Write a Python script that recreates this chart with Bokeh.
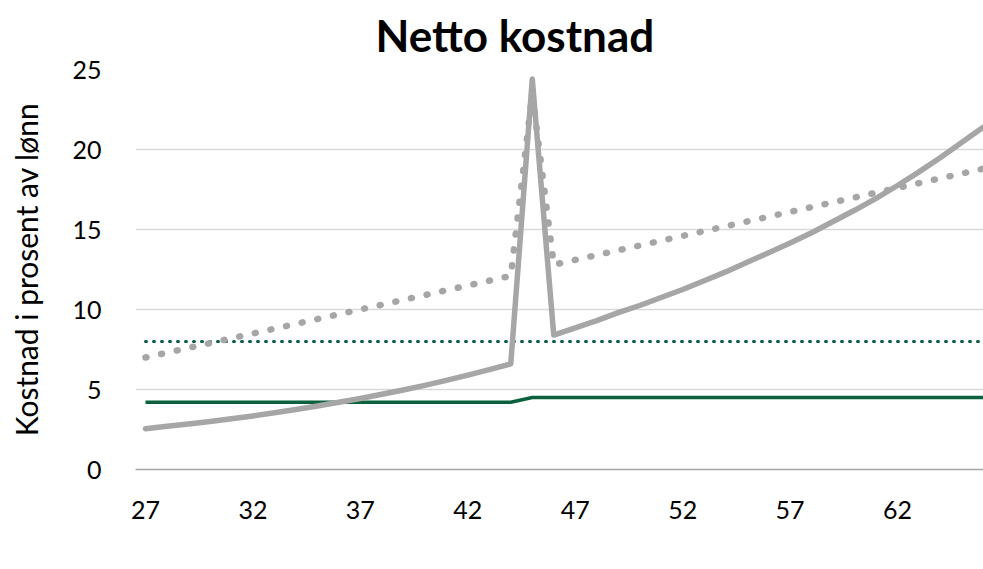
from bokeh.plotting import figure
from bokeh.models import (Range1d, FixedTicker, Legend, LegendItem, Title,
                          LinearAxis, ColumnDataSource)
from bokeh.embed import file_html
from bokeh.resources import INLINE

# ---------------- data ----------------
ages = [27, 28, 29, 30, 31, 32, 33, 34, 35, 36, 37, 38, 39, 40, 41, 42, 43, 44,
        45, 46, 47, 48, 49, 50, 51, 52, 53, 54, 55, 56, 57, 58, 59, 60, 61, 62,
        63, 64, 65, 66]

innskudd = [4.2, 4.2, 4.2, 4.2, 4.2, 4.2, 4.2, 4.2, 4.2, 4.2, 4.2, 4.2, 4.2,
            4.2, 4.2, 4.2, 4.2, 4.2, 4.5, 4.5, 4.5, 4.5, 4.5, 4.5, 4.5, 4.5,
            4.5, 4.5, 4.5, 4.5, 4.5, 4.5, 4.5, 4.5, 4.5, 4.5, 4.5, 4.5, 4.5, 4.5]

grunnmodell = [8.0, 8.0, 8.0, 8.0, 8.0, 8.0, 8.0, 8.0, 8.0, 8.0, 8.0, 8.0, 8.0,
               8.0, 8.0, 8.0, 8.0, 8.0, 8.0, 8.0, 8.0, 8.0, 8.0, 8.0, 8.0, 8.0,
               8.0, 8.0, 8.0, 8.0, 8.0, 8.0, 8.0, 8.0, 8.0, 8.0, 8.0, 8.0, 8.0, 8.0]

standardmodell = [7.0, 7.3, 7.6, 7.9, 8.2, 8.5, 8.8, 9.1, 9.4, 9.7, 10.0, 10.3,
                  10.6, 10.9, 11.2, 11.5, 11.8, 12.1, 23.5, 12.8, 13.1, 13.4,
                  13.7, 14.0, 14.3, 14.6, 14.9, 15.2, 15.5, 15.8, 16.1, 16.4,
                  16.7, 17.0, 17.3, 17.6, 17.9, 18.2, 18.5, 18.8]

ytelse = [2.55, 2.7, 2.85, 3.0, 3.17, 3.35, 3.55, 3.75, 3.97, 4.2, 4.44, 4.7,
          4.97, 5.26, 5.57, 5.9, 6.24, 6.6, 24.4, 8.4, 8.85, 9.3, 9.8, 10.25,
          10.75, 11.25, 11.8, 12.35, 12.95, 13.55, 14.15, 14.8, 15.5, 16.2,
          16.95, 17.75, 18.6, 19.5, 20.45, 21.4]

x_ticks = [27, 32, 37, 42, 47, 52, 57, 62]
y_ticks = [0, 5, 10, 15, 20, 25]

title_text = "Netto kostnad"
y_title = "Kostnad i prosent av lønn"
x_title = "Alder"

# ---------------- styling ----------------
GREEN = "#0b603e"
GREY = "#a6a6a6"
FONT = "Lato"

src = ColumnDataSource(dict(age=ages, inn=innskudd, grunn=grunnmodell,
                            std=standardmodell, yt=ytelse))

p = figure(frame_width=848, frame_height=400, output_backend="svg",
           toolbar_location=None,
           x_range=Range1d(26.535, 66.0), y_range=Range1d(0, 25),
           min_border_left=135, min_border_right=0, min_border_top=69,
           min_border_bottom=0)
p.outline_line_color = None
p.background_fill_color = "white"

# title
p.title = Title(text=title_text, text_font=FONT, text_font_size="44px",
                text_font_style="bold", text_color="black", align="left",
                offset=240, standoff=13, vertical_align="top")

# grid
p.xgrid.grid_line_color = None
p.ygrid.grid_line_color = "#d9d9d9"
p.ygrid.grid_line_width = 1.5
p.ygrid.ticker = FixedTicker(ticks=y_ticks)

# axes
p.xaxis.ticker = FixedTicker(ticks=x_ticks)
p.yaxis.ticker = FixedTicker(ticks=y_ticks)
for ax in (p.xaxis, p.yaxis):
    ax.major_tick_line_color = None
    ax.minor_tick_line_color = None
    ax.major_label_text_font = FONT
    ax.major_label_text_font_size = "25px"
    ax.major_label_text_color = "black"
p.xaxis.axis_line_color = "#a6a6a6"
p.xaxis.axis_line_width = 1.5
p.xaxis.major_label_standoff = 25
p.yaxis.axis_line_color = None
p.yaxis.major_label_standoff = 28
p.yaxis.axis_label = y_title
p.yaxis.axis_label_text_font = FONT
p.yaxis.axis_label_text_font_size = "30px"
p.yaxis.axis_label_text_font_style = "normal"
p.yaxis.axis_label_text_color = "black"
p.yaxis.axis_label_standoff = 25

# "Alder" as a small secondary axis label near the right end
p.extra_x_ranges = {"alder": Range1d(26.535 - 0.09, 66.0 - 0.09)}
ax2 = LinearAxis(x_range_name="alder", ticker=FixedTicker(ticks=[63]),
                 major_label_overrides={63: x_title})
ax2.axis_line_color = None
ax2.major_tick_line_color = None
ax2.minor_tick_line_color = None
ax2.major_label_text_font = FONT
ax2.major_label_text_font_size = "17px"
ax2.major_label_text_color = "black"
ax2.major_label_standoff = -55

# series
r_inn = p.line("age", "inn", source=src, line_color=GREEN, line_width=3.5,
               line_join="round")
r_gr = p.line("age", "grunn", source=src, line_color=GREEN, line_width=3,
              line_dash="1 7", line_cap="round")
r_std = p.line("age", "std", source=src, line_color=GREY, line_width=6.5,
               line_dash="1 15", line_cap="round", line_join="round")
r_yt = p.line("age", "yt", source=src, line_color=GREY, line_width=5.5,
              line_join="round", line_cap="round")

legend = Legend(items=[LegendItem(label="Innskudd", renderers=[r_inn]),
                       LegendItem(label="Grunnmodell", renderers=[r_gr]),
                       LegendItem(label="Standardmodell", renderers=[r_std]),
                       LegendItem(label="Ytelse", renderers=[r_yt])],
                orientation="horizontal", location=(-72, 0),
                glyph_width=70, glyph_height=40, label_standoff=8, spacing=14,
                padding=0, margin=0, border_line_color=None,
                background_fill_alpha=0, label_text_font=FONT,
                label_text_font_size="29px", label_text_color="black")

# below panels: main x axis, then legend, then the "Alder" label axis
main_xaxis = p.xaxis[0]
p.below = [main_xaxis, legend, ax2]

open("out.html", "w").write(file_html(p, INLINE))
